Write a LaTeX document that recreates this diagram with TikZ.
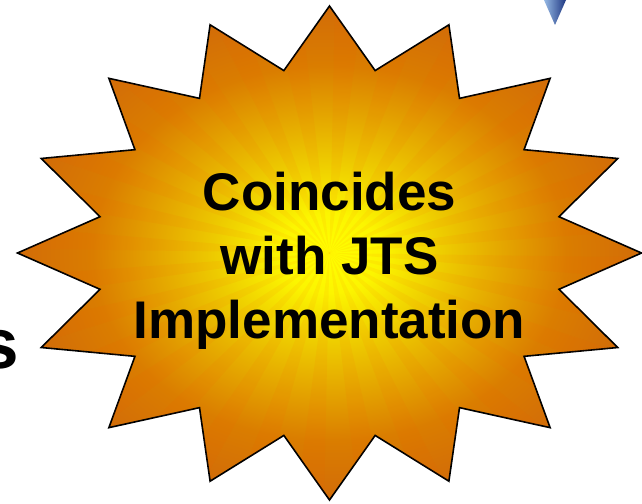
\documentclass[tikz,border=0pt]{standalone}
\usepackage{fontspec}
\setmainfont{Liberation Sans}
\pgfdeclareradialshading{starshade}{\pgfpoint{0bp}{0bp}}{%
  color(0bp)=(rgb,255:red,255;green,255;blue,0);
  color(4bp)=(rgb,255:red,252;green,245;blue,0);
  color(9bp)=(rgb,255:red,238;green,205;blue,0);
  color(14bp)=(rgb,255:red,228;green,165;blue,0);
  color(19bp)=(rgb,255:red,218;green,125;blue,0);
  color(25bp)=(rgb,255:red,210;green,108;blue,8);
  color(50bp)=(rgb,255:red,210;green,108;blue,8)}
\definecolor{bluelight}{RGB}{150,185,228}
\definecolor{bluemid}{RGB}{80,125,195}
\definecolor{bluedark}{RGB}{30,55,130}
\tikzset{
  startext/.style={font=\bfseries\fontsize{53}{64}\selectfont, inner sep=0pt, anchor=base},
  bigtext/.style={font=\bfseries\fontsize{71}{80}\selectfont, inner sep=0pt, anchor=base east},
}
\begin{document}
\begin{tikzpicture}[x=1pt,y=-1pt]
  \useasboundingbox (0,0) rectangle (642,503);
  \fill[white] (0,0) rectangle (642,503);
  % blue shape at top right
  \shade[left color=bluelight, middle color=bluemid, right color=bluedark, shading angle=90]
    (544,0) -- (566,0) -- (555,25) -- cycle;
  % star
  \begin{scope}[shift={(329.5,253)}]
    \shade[shading=starshade, draw=black, line width=1.6pt, line join=miter]
      (90:312 and 247)
      \foreach \i in {0,...,15} {
        -- ({101.25+22.5*\i}:234 and 186) -- ({112.5+22.5*\i}:312 and 247)
      } -- cycle;
    \begin{scope}
      \clip (90:312 and 247)
      \foreach \i in {0,...,15} {
        -- ({101.25+22.5*\i}:234 and 186) -- ({112.5+22.5*\i}:312 and 247)
      } -- cycle;
      \foreach \i in {0,...,31} {
        \fill[orange!70!red, opacity=0.07]
          (0,0) -- ({\i*11.25+1}:330 and 260) -- ({\i*11.25+6}:330 and 260) -- cycle;
      }
    \end{scope}
  \end{scope}
  % text
  \node[startext] (l1) at (329.5,210) {Coincides};
  \node[startext] (l2) at (329.5,274) {with JTS};
  \node[startext] (l3) at (329.5,338) {Implementation};
  \node[bigtext] (s) at (19.5,368) {s};
\end{tikzpicture}
\end{document}
